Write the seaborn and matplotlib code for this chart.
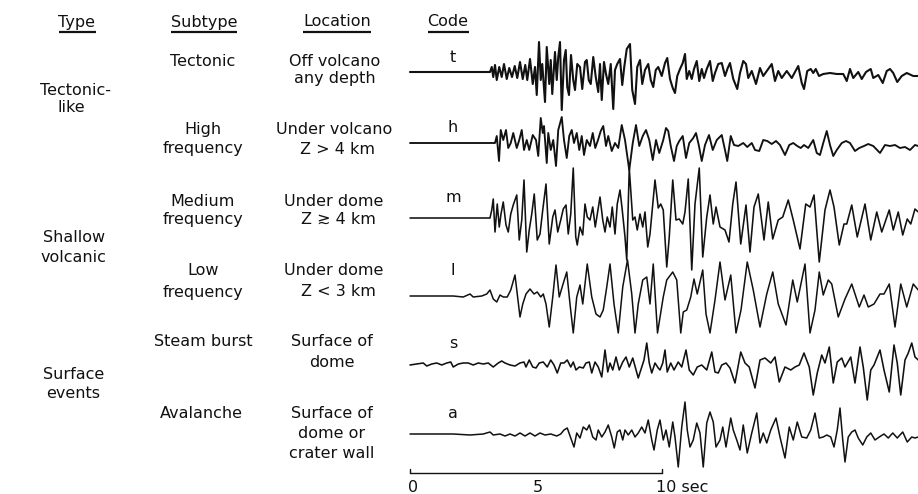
import matplotlib
matplotlib.use("Agg")
import matplotlib.pyplot as plt
import seaborn as sns
import pandas as pd

# ---------------------------------------------------------------------------
# Representative seismograms for each event class (time in s, amplitude in
# recorder units, turning points of the trace).
# ---------------------------------------------------------------------------
T_TIME = [-0.08, 3.12, 3.19, 3.25, 3.32, 3.39, 3.49, 3.59, 3.68, 3.79, 3.89, 4.00,
          4.11, 4.21, 4.32, 4.43, 4.53, 4.61, 4.72, 4.83, 4.92, 4.99, 5.08, 5.15,
          5.21, 5.32, 5.39, 5.49, 5.55, 5.61, 5.72, 5.79, 5.85, 5.92, 5.99, 6.08,
          6.15, 6.21, 6.28, 6.36, 6.45, 6.52, 6.61, 6.72, 6.81, 6.92, 6.99, 7.07,
          7.15, 7.25, 7.35, 7.45, 7.52, 7.59, 7.68, 7.76, 7.85, 7.95, 8.05, 8.12,
          8.21, 8.32, 8.41, 8.49, 8.59, 8.72, 8.81, 8.92, 9.01, 9.12, 9.21, 9.32,
          9.45, 9.55, 9.65, 9.75, 9.85, 9.99, 10.12, 10.21, 10.32, 10.43, 10.52,
          10.61, 10.72, 10.83, 10.92, 10.99, 11.09, 11.19, 11.28, 11.39, 11.49,
          11.59, 11.68, 11.79, 11.92, 12.03, 12.12, 12.25, 12.39, 12.52, 12.63,
          12.72, 12.85, 13.01, 13.12, 13.25, 13.36, 13.45, 13.59, 13.76, 13.92,
          14.05, 14.19, 14.39, 14.52, 14.65, 14.79, 14.99, 15.19, 15.45, 15.59,
          15.68, 15.81, 15.95, 16.05, 16.15, 16.28, 16.45, 16.72, 16.99, 17.25,
          17.39, 17.52, 17.65, 17.85, 17.99, 18.16, 18.35, 18.45, 18.65, 18.83,
          18.99, 19.12, 19.25, 19.41, 19.59, 19.79, 20.05, 20.25]
T_AMP = [0, 0, 5, -5, 7, -8, 5, -5, 8, -7, 4, -5,
         6, -6, 10, -7, 7, -8, 13, -12, 5, -23, 30, -8,
         8, -30, 25, -12, 12, -22, 20, -8, 15, 30, -38, 12,
         22, -15, -23, 17, -8, -18, 8, 5, -17, 10, 12, -8,
         -12, 15, -5, -20, 8, -28, 10, -2, -12, 8, -37, 2,
         8, 13, -13, 5, 23, 28, -18, -32, 5, 12, -12, 2,
         8, -8, -15, 2, 5, -4, 9, 14, -7, -16, -21,
         -4, 3, 9, 18, -7, 1, -7, 3, 11, -9,
         3, -6, 3, 11, -9, -1, 8, 9, -4, 4,
         9, -7, -17, -1, 11, 8, -6, 1, -12, 4,
         -4, 1, 8, -9, 1, -6, 1, -6, 6, -11,
         -17, 1, 3, -1, 3, -4, -2, -1, -2, -2,
         -9, 3, -6, 0, -7, 0, 3, -6, -3, -11,
         1, 3, -1, -10, -4, -1, -4, -4]

H_TIME = [-0.08, 3.32, 3.39, 3.48, 3.55, 3.65, 3.76, 3.85, 3.95, 4.05, 4.19, 4.29,
          4.39, 4.48, 4.59, 4.69, 4.83, 4.96, 5.05, 5.15, 5.23, 5.28, 5.39, 5.45,
          5.55, 5.65, 5.76, 5.85, 5.99, 6.08, 6.19, 6.29, 6.39, 6.48, 6.59, 6.69,
          6.79, 6.88, 6.99, 7.12, 7.23, 7.33, 7.44, 7.55, 7.65, 7.76, 7.85, 7.99,
          8.12, 8.25, 8.39, 8.52, 8.69, 8.83, 8.96, 9.09, 9.23, 9.36, 9.49, 9.63,
          9.76, 9.89, 10.05, 10.16, 10.25, 10.35, 10.48, 10.59, 10.69, 10.83,
          10.96, 11.09, 11.25, 11.36, 11.47, 11.59, 11.72, 11.88, 12.03, 12.19,
          12.39, 12.52, 12.61, 12.75, 12.88, 13.05, 13.25, 13.41, 13.59, 13.72,
          13.89, 14.05, 14.21, 14.39, 14.56, 14.72, 14.92, 15.09, 15.25, 15.41,
          15.55, 15.68, 15.85, 16.05, 16.19, 16.32, 16.45, 16.59, 16.72, 16.85,
          16.99, 17.19, 17.36, 17.52, 17.72, 17.89, 18.08, 18.25, 18.45, 18.72,
          18.92, 19.12, 19.32, 19.52, 19.72, 19.92, 20.12, 20.25]
H_AMP = [0, 0, 7, -18, 13, 3, 13, -5, 0, 10, -5, 3,
         13, -7, 3, -7, 8, 3, -13, 25, 10, 17, -20, 10,
         -7, 3, -23, 13, 26, 3, -15, 7, 13, 0, 10, -7,
         7, -12, 3, -3, 10, -5, 3, 12, 17, -3, 7, -8,
         0, -5, 18, 3, -27, 0, 18, -3, 7, 13, 3, -17,
         3, -10, 3, 15, 12, -3, -18, -3, 2, 7,
         -15, 0, 5, 10, -2, -18, -2, 8, -7, 3,
         8, -7, -18, 7, -2, -3, 0, -4, 0, -7,
         -8, 3, 2, -1, 2, -2, -12, -2, 0, -3,
         -5, -2, -5, 3, -10, -12, 0, 12, -2, -13,
         -7, 0, 2, 0, -8, -5, -3, -1, -3, -10,
         -2, -3, -2, -5, -4, -7, -2, -3]

M_TIME = [-0.08, 3.12, 3.19, 3.25, 3.32, 3.41, 3.49, 3.56, 3.65, 3.76, 3.85, 3.95,
          4.05, 4.19, 4.29, 4.39, 4.48, 4.59, 4.69, 4.79, 4.89, 5.01, 5.12, 5.23,
          5.36, 5.49, 5.63, 5.72, 5.83, 5.95, 6.05, 6.16, 6.25, 6.35, 6.45, 6.55,
          6.61, 6.72, 6.83, 6.92, 7.01, 7.12, 7.23, 7.33, 7.44, 7.52, 7.63, 7.72,
          7.81, 7.92, 8.01, 8.12, 8.21, 8.32, 8.41, 8.52, 8.59, 8.69, 8.83, 8.92,
          9.01, 9.12, 9.23, 9.32, 9.43, 9.52, 9.63, 9.72, 9.85, 9.95, 10.05, 10.19,
          10.29, 10.43, 10.56, 10.69, 10.83, 10.92, 11.05, 11.19, 11.32, 11.49,
          11.63, 11.79, 11.92, 12.05, 12.16, 12.32, 12.52, 12.68, 12.83, 12.96,
          13.15, 13.36, 13.52, 13.68, 13.85, 14.08, 14.25, 14.43, 14.65, 14.83,
          15.05, 15.25, 15.52, 15.75, 15.92, 16.08, 16.29, 16.52, 16.72, 16.88,
          17.09, 17.28, 17.39, 17.59, 17.81, 18.12, 18.35, 18.59, 18.79, 19.09,
          19.25, 19.45, 19.63, 19.81, 19.95, 20.12, 20.25]
M_AMP = [0, 0, 8, 19, -14, 14, -9, 4, 16, -7, -14, 4,
         13, 23, -22, -2, 38, -34, -12, 4, 24, -22, -16, 8,
         34, -26, 1, 8, -14, -2, 9, 13, -16, 4, 50, -19,
         -27, -9, -17, 14, 1, -2, 11, -9, 8, 21, -2, -14,
         1, -9, 11, -16, 14, 28, 8, -19, -42, 50, -2, 1,
         -12, 4, -9, 6, -29, -16, 14, 38, 10, 14, 8, -49,
         -19, 38, -2, -1, -6, 6, 39, -52, 14, 50,
         -39, 1, 23, -6, 11, -9, -12, -24, 14, 36,
         -26, 13, -34, 11, 24, -22, 16, -21, -2, 1,
         18, -2, -31, 14, 11, 23, -44, 8, 28, 11,
         -27, -6, -6, 13, -19, 14, -22, 6, -14, 8,
         -12, 6, -17, -1, -6, 9, 6]

L_TIME = [-0.08, 1.12, 1.65, 2.05, 2.32, 2.45, 2.79, 2.99, 3.12, 3.25, 3.39, 3.52,
          3.65, 3.81, 3.95, 4.12, 4.21, 4.32, 4.43, 4.56, 4.72, 4.88, 5.01, 5.15,
          5.25, 5.36, 5.49, 5.63, 5.76, 5.89, 6.03, 6.19, 6.32, 6.45, 6.59, 6.72,
          6.83, 7.01, 7.19, 7.36, 7.52, 7.65, 7.79, 7.92, 8.08, 8.25, 8.43, 8.62,
          8.79, 8.92, 9.05, 9.23, 9.39, 9.52, 9.65, 9.82, 10.05, 10.19, 10.43,
          10.59, 10.75, 10.85, 10.99, 11.15, 11.28, 11.41, 11.63, 11.76, 11.92,
          12.12, 12.32, 12.52, 12.75, 12.96, 13.16, 13.41, 13.65, 13.92, 14.19,
          14.43, 14.65, 14.96, 15.23, 15.41, 15.72, 15.92, 16.12, 16.29, 16.45,
          16.65, 16.79, 17.05, 17.32, 17.59, 17.89, 18.08, 18.25, 18.48, 18.72,
          18.88, 19.09, 19.32, 19.55, 19.79, 20.05, 20.25]
L_AMP = [0, 0, 0, -1, 2, -1, 0, 2, 6, -3, -6, 1,
         -1, -1, 6, 21, 2, -21, -8, 2, 7, 2, 4, -1,
         2, -8, -31, -1, 31, -1, 11, 24, -8, -37, -1, 11,
         -8, 32, -1, -18, -21, -14, 9, 32, -8, -37, 9, 36,
         2, -37, -8, 16, 19, -8, 32, -37, -1, 16, 24,
         16, -37, -16, -14, -1, 17, 2, 26, -18, -37,
         -4, 34, -4, 21, -37, -14, 34, 6, -31, 2,
         24, -8, -29, 16, -6, 32, -37, -14, 24, 1,
         16, 12, -21, -3, 12, -11, 1, -11, -8, 2,
         2, 12, -31, 12, -11, 12, 6]

S_TIME = [-0.08, 0.45, 0.59, 0.79, 0.99, 1.19, 1.39, 1.55, 1.65, 1.85, 2.05, 2.25,
          2.45, 2.65, 2.85, 3.05, 3.25, 3.45, 3.59, 3.72, 3.92, 4.12, 4.32, 4.48,
          4.56, 4.69, 4.83, 4.96, 5.09, 5.25, 5.41, 5.55, 5.68, 5.81, 5.95, 6.08,
          6.21, 6.35, 6.45, 6.56, 6.69, 6.85, 6.96, 7.09, 7.19, 7.32, 7.45, 7.59,
          7.72, 7.83, 7.92, 8.03, 8.16, 8.29, 8.43, 8.56, 8.69, 8.83, 8.96, 9.05,
          9.19, 9.28, 9.39, 9.49, 9.59, 9.72, 9.85, 9.92, 10.03, 10.12, 10.21,
          10.35, 10.48, 10.65, 10.79, 10.96, 11.09, 11.25, 11.41, 11.59, 11.79,
          11.99, 12.12, 12.25, 12.39, 12.56, 12.72, 12.92, 13.15, 13.32, 13.49,
          13.72, 13.92, 14.12, 14.35, 14.52, 14.69, 14.92, 15.15, 15.32, 15.49,
          15.68, 15.89, 16.05, 16.21, 16.39, 16.52, 16.69, 16.85, 17.01, 17.19,
          17.32, 17.55, 17.72, 17.92, 18.05, 18.21, 18.35, 18.48, 18.59, 18.72,
          18.88, 19.09, 19.28, 19.41, 19.55, 19.72, 19.85, 19.99, 20.12, 20.25]
S_AMP = [0, 2, -1, 1, 2, 0, 2, 3, -2, 1, 2, 2,
         0, 2, 1, 2, -2, 2, 4, 2, 0, -1, 2, 3,
         -2, 5, -2, -3, 2, 3, -2, 5, 0, -8, 2, 2,
         5, -2, 3, -5, -2, -3, 2, 3, -8, 3, -2, -12,
         15, -7, 2, -5, 8, -5, 3, 8, -2, 7, -5, -13,
         -2, 5, 22, 2, -8, 2, -3, -5, 2, 15, -7,
         2, -5, 3, -2, 15, -5, -10, -2, 0, -5,
         13, -7, -8, 0, 2, -3, -18, 13, 2, -2,
         -23, 5, 7, 2, 8, -17, -2, -5, -2, 0,
         12, -2, -30, -8, 10, 2, 18, -18, 3, 7,
         -2, 8, -18, 18, -2, -35, -5, 0, 7, 15,
         -5, -27, 20, 2, -30, 5, 12, 22, 8, 5]

A_TIME = [-0.08, 0.99, 1.65, 2.32, 2.85, 3.12, 3.25, 3.52, 3.72, 3.92, 4.12, 4.32,
          4.52, 4.72, 4.92, 5.12, 5.32, 5.55, 5.79, 5.95, 6.08, 6.21, 6.35, 6.48,
          6.59, 6.72, 6.85, 6.99, 7.09, 7.23, 7.36, 7.45, 7.59, 7.72, 7.85, 7.99,
          8.09, 8.21, 8.32, 8.43, 8.52, 8.65, 8.79, 8.92, 9.05, 9.19, 9.32, 9.45,
          9.59, 9.68, 9.81, 9.92, 10.05, 10.16, 10.29, 10.43, 10.52, 10.65, 10.79,
          10.92, 11.01, 11.12, 11.25, 11.39, 11.52, 11.65, 11.79, 11.92, 12.05,
          12.16, 12.32, 12.43, 12.56, 12.75, 12.85, 12.99, 13.12, 13.25, 13.41,
          13.59, 13.79, 13.92, 14.05, 14.19, 14.35, 14.56, 14.72, 14.92, 15.09,
          15.25, 15.41, 15.59, 15.79, 15.95, 16.12, 16.29, 16.45, 16.59, 16.75,
          16.88, 17.01, 17.12, 17.23, 17.32, 17.45, 17.59, 17.72, 17.85, 18.03,
          18.19, 18.35, 18.52, 18.69, 18.88, 19.05, 19.23, 19.41, 19.63, 19.81,
          19.99, 20.12, 20.25]
A_AMP = [0, 0, 0, -1, 0, 2, -1, 0, -2, 0, -2, 1,
         -2, 1, -2, 1, -1, 0, -2, 0, 4, 6, -4, -13,
         1, -4, 7, 4, 9, -3, -6, 4, -3, 2, 9, -3,
         -14, 2, 4, -6, 4, -1, 4, -3, 1, 7, 1, 14,
         -6, -16, 4, 14, -6, 4, -13, 12, -3, -33, 7,
         32, 4, -13, -6, 11, 1, -33, 11, 22, 12,
         -13, -6, 7, -13, 16, 4, -6, -16, 9, -19,
         1, 21, -9, 1, -9, 4, 16, -3, -24, 7,
         -6, 12, -3, -4, 4, 21, -4, -3, -1, -3,
         -13, 4, 26, -6, -28, -3, 2, 4, -4, -11,
         -3, 1, -6, -3, 0, -4, 1, -4, 2, -8,
         -3, -4, -3]

CODES = ["t", "h", "m", "l", "s", "a"]
TRACES = {"t": (T_TIME, T_AMP), "h": (H_TIME, H_AMP), "m": (M_TIME, M_AMP),
          "l": (L_TIME, L_AMP), "s": (S_TIME, S_AMP), "a": (A_TIME, A_AMP)}

SCALE_TICKS = [0, 5, 10]
SCALE_LABELS = ["0", "5", "10 sec"]

# ---------------------------------------------------------------------------
# Figure layout (pixel grid of a 918 x 494 canvas)
# ---------------------------------------------------------------------------
W, H = 918, 494
X0_PX, PX_PER_S = 412, 25.0
TRACE_ROW = {"t": 72, "h": 143, "m": 218, "l": 296, "s": 365, "a": 434}
CODE_ROW = {"t": 57, "h": 127, "m": 198, "l": 270, "s": 343, "a": 413}
TRACE_LW = {"t": 1.5, "h": 1.35, "m": 1.15, "l": 1.1, "s": 1.15, "a": 1.1}
FS = 11.5

sns.set_theme(style="white")
plt.rcParams["font.family"] = ["DejaVu Sans"]
plt.rcParams["text.color"] = "#111111"

fig = plt.figure(figsize=(W / 100, H / 100), dpi=100)
fig.patch.set_facecolor("white")
ax = fig.add_axes([0, 0, 1, 1])
ax.set_xlim(-X0_PX / PX_PER_S, (W - X0_PX) / PX_PER_S)
ax.set_ylim(H, 0)
ax.axis("off")

INK = "#111111"

# seismogram traces
frames = []
for code in CODES:
    times, amps = TRACES[code]
    frames.append(pd.DataFrame({"time": times, "amp": amps, "code": code}))
data = pd.concat(frames, ignore_index=True)
data["y"] = data["code"].map(TRACE_ROW) - data["amp"]
for code in CODES:
    sub = data[data["code"] == code]
    sns.lineplot(data=sub, x="time", y="y", ax=ax, color=INK, lw=TRACE_LW[code],
                 estimator=None, sort=False, legend=False)

# time scale bar
bar_y = 473
ax.plot([SCALE_TICKS[0] - 0.08, SCALE_TICKS[-1]], [bar_y, bar_y], color=INK, lw=1.0)
for tk in (SCALE_TICKS[0] - 0.08, SCALE_TICKS[-1]):
    ax.plot([tk, tk], [bar_y, bar_y - 4], color=INK, lw=1.0)
for tk, lab in zip(SCALE_TICKS, SCALE_LABELS):
    ha = "left" if lab.endswith("sec") else "center"
    xoff = -0.25 if ha == "left" else 0.03
    ax.text(tk + xoff, 487, lab, ha=ha, va="center", fontsize=FS, color=INK)


def put(xpx, ypx, s, **kw):
    return fig.text(xpx / W, 1 - ypx / H, s, ha="center", va="center",
                    fontsize=FS, color=INK, **kw)


# column headers with underlines
headers = [(77, "Type"), (204, "Subtype"), (337, "Location"), (448, "Code")]
hdr_texts = [put(x, 22, s) for x, s in headers]

# table body
body = [
    (203, 61, "Tectonic"), (335, 61, "Off volcano"), (335, 78, "any depth"),
    (76, 90, "Tectonic-"), (71, 107, "like"),
    (203, 129, "High"), (203, 149, "frequency"),
    (334, 129, "Under volcano"), (338, 149, "Z > 4 km"),
    (203, 201, "Medium"), (203, 219, "frequency"),
    (334, 201, "Under dome"), (338, 219, "Z \u2273 4 km"),
    (74, 237, "Shallow"), (73, 257, "volcanic"),
    (203, 270, "Low"), (203, 292, "frequency"),
    (334, 270, "Under dome"), (338, 291, "Z < 3 km"),
    (203, 342, "Steam burst"), (332, 342, "Surface of"), (332, 362, "dome"),
    (74, 374, "Surface"), (73, 393, "events"),
    (201, 413, "Avalanche"), (332, 413, "Surface of"), (332, 433, "dome or"),
    (332, 453, "crater wall"),
]
for x, y, s in body:
    put(x, y, s)

for code in CODES:
    put(453, CODE_ROW[code], code)

fig.canvas.draw()
renderer = fig.canvas.get_renderer()
inv = ax.transData.inverted()
for t in hdr_texts:
    bb = t.get_window_extent(renderer)
    (x0, _), (x1, _) = inv.transform([(bb.x0, 0), (bb.x1, 0)])
    ax.plot([x0, x1], [32, 32], color=INK, lw=1.6, solid_capstyle="butt")

fig.savefig("out.png", dpi=100, facecolor="white")
